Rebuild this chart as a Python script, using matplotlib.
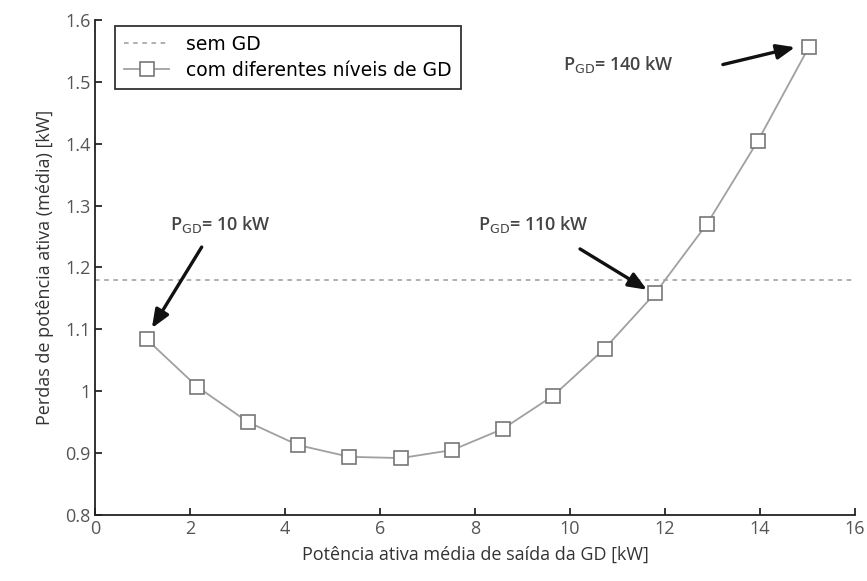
import matplotlib
matplotlib.use("Agg")
import matplotlib.pyplot as plt

# potencia media de saida da GD [kW] e perdas medias [kW]
gd_output = [1.08, 2.15, 3.22, 4.27, 5.35, 6.44, 7.52, 8.58, 9.65, 10.73, 11.80, 12.89, 13.96, 15.03]
losses = [1.084, 1.007, 0.950, 0.913, 0.894, 0.892, 0.905, 0.939, 0.993, 1.069, 1.159, 1.271, 1.405, 1.556]
loss_no_gd = 1.18

# annotations: label, text anchor, arrow tail, arrow head
notes = [
    ("10 kW", (1.57, 1.269), (2.24, 1.233), (1.19, 1.102)),
    ("110 kW", (8.06, 1.269), (10.21, 1.230), (11.62, 1.164)),
    ("140 kW", (9.85, 1.528), (13.22, 1.528), (14.74, 1.556)),
]

plt.rcParams['font.family'] = ['Open Sans', 'DejaVu Sans']

fig = plt.figure(figsize=(8.67, 5.81), dpi=100)
ax = fig.add_axes([0.110, 0.1136, 0.876, 0.852])

ax.axhline(loss_no_gd, color='#9a9a9a', lw=1.1, linestyle=(0, (3, 3)), label='sem GD')
ax.plot(gd_output, losses, color='#a0a0a0', lw=1.3, marker='s', markersize=10,
        markerfacecolor='white', markeredgecolor='#777777', markeredgewidth=1.2,
        label='com diferentes níveis de GD')

for label, txt_pos, tail, head in notes:
    ax.text(txt_pos[0], txt_pos[1], r'P$_{\mathrm{GD}}$= ' + label, fontsize=13,
            fontweight='semibold', color='#444444', va='center', ha='left')
    ax.annotate('', xy=head, xytext=tail,
                arrowprops=dict(arrowstyle='-|>,head_length=1.1,head_width=0.45',
                                color='#111111', lw=2.4, shrinkA=0, shrinkB=0))

ax.set_xlim(0, 16)
ax.set_ylim(0.8, 1.6)
ax.set_xticks(range(0, 17, 2))
ax.set_yticks([0.8, 0.9, 1.0, 1.1, 1.2, 1.3, 1.4, 1.5, 1.6])
ax.set_yticklabels(['0.8', '0.9', '1', '1.1', '1.2', '1.3', '1.4', '1.5', '1.6'])

for side in ['top', 'right']:
    ax.spines[side].set_visible(False)
for side in ['left', 'bottom']:
    ax.spines[side].set_linewidth(1.3)
    ax.spines[side].set_color('#222222')
ax.tick_params(direction='in', length=5, width=1.1, labelsize=13, labelcolor='#555555')

ax.set_xlabel('Potência ativa média de saída da GD [kW]', fontsize=13, color='#333333', labelpad=6)
ax.set_ylabel('Perdas de potência ativa (média) [kW]', fontsize=13, color='#333333', labelpad=8)

leg = ax.legend(loc='upper left', bbox_to_anchor=(0.018, 1.0),
                prop={'family': 'DejaVu Sans', 'size': 13.5},
                fancybox=False, framealpha=1, edgecolor='#333333', handlelength=2.4,
                borderpad=0.5, labelspacing=0.35, handletextpad=0.9, borderaxespad=0.3)
leg.get_frame().set_linewidth(1.3)

fig.savefig('out.png', dpi=100)
